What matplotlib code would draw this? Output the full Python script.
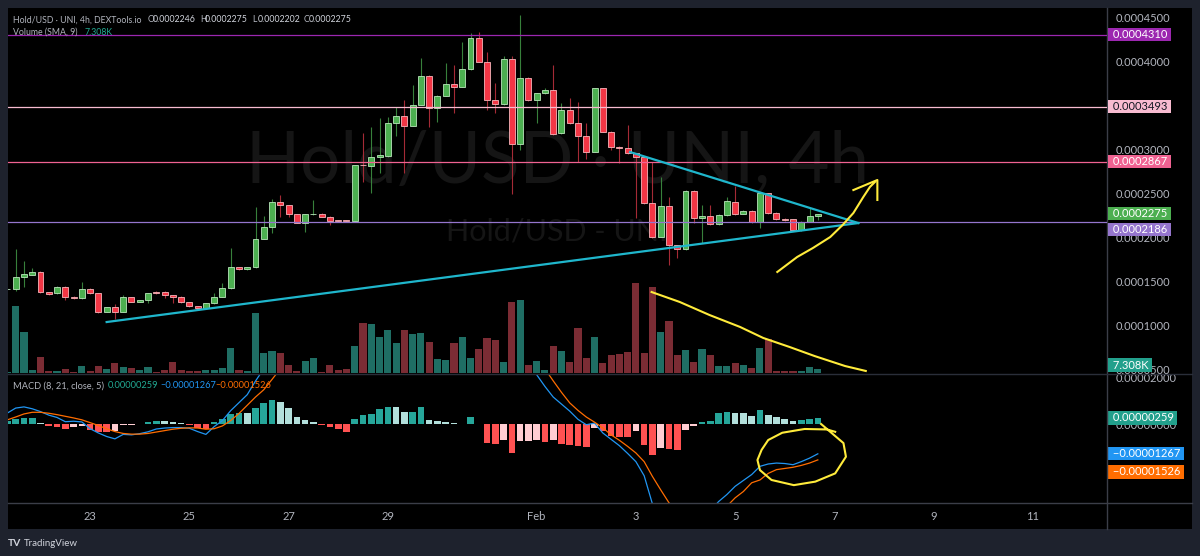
import numpy as np
import matplotlib
matplotlib.use('Agg')
import matplotlib.pyplot as plt
from matplotlib.lines import Line2D
from matplotlib.patches import Rectangle
from matplotlib.ticker import FuncFormatter
from matplotlib.transforms import blended_transform_factory

plt.rcParams['font.family'] = ['Lato', 'DejaVu Sans']

W, H = 1200, 556

# 4h candles, first one = Jan 21 08:00 (index -1), prices in units of 1e-7
opens = [1417, 1417, 1560, 1583, 1611, 1383, 1371, 1447, 1333, 1315,
         1420, 1371, 1162, 1212, 1162, 1326, 1276, 1295, 1390, 1390,
         1349, 1333, 1269, 1227, 1208, 1258, 1333, 1428, 1667, 1644,
         1667, 1992, 2122, 2412, 2375, 2269, 2174, 2270, 2273, 2242,
         2205, 2200, 2197, 2830, 2818, 2920, 2935, 3303, 3386, 3276,
         3515, 3841, 3474, 3617, 3750, 3719, 3917, 4276, 4003, 3568,
         3519, 4031, 3065, 3822, 3568, 3644, 3682, 3190, 3455, 3310,
         3159, 2981, 3701, 3208, 3037, 3019, 2962, 2917, 2394, 2015,
         2364, 1920, 1872, 2537, 2231, 2250, 2159, 2261, 2412, 2273,
         2307, 2185, 2508, 2281, 2220, 2212, 2091, 2185, 2246]
closes = [1418, 1560, 1587, 1611, 1383, 1364, 1447, 1326, 1315, 1420,
          1371, 1162, 1212, 1162, 1326, 1276, 1295, 1371, 1371, 1349,
          1333, 1269, 1227, 1208, 1258, 1333, 1428, 1667, 1644, 1667,
          1992, 2122, 2412, 2375, 2269, 2174, 2269, 2273, 2242, 2197,
          2190, 2188, 2826, 2826, 2920, 2940, 3303, 3386, 3276, 3515,
          3841, 3474, 3617, 3750, 3719, 3917, 4276, 4003, 3568, 3519,
          4031, 3065, 3822, 3568, 3644, 3682, 3182, 3455, 3310, 3159,
          2981, 3701, 3208, 3037, 3019, 2962, 2917, 2394, 2015, 2364,
          1920, 1872, 2537, 2231, 2250, 2159, 2261, 2420, 2273, 2307,
          2185, 2508, 2281, 2212, 2205, 2091, 2185, 2250, 2275]
highs = [1430, 1875, 1742, 1656, 1620, 1390, 1452, 1452, 1338, 1497,
         1428, 1375, 1218, 1250, 1352, 1332, 1300, 1378, 1395, 1400,
         1352, 1338, 1272, 1230, 1262, 1375, 1492, 1883, 1672, 1672,
         2349, 2253, 2440, 2489, 2380, 2275, 2275, 2432, 2280, 2248,
         2210, 2205, 2835, 3197, 3265, 3360, 3378, 3492, 3568, 3739,
         4042, 3848, 3625, 3992, 3966, 4231, 4326, 4344, 4117, 3758,
         4068, 4068, 4534, 3830, 3650, 3700, 3966, 3531, 3587, 3549,
         3303, 3710, 3710, 3215, 3045, 3284, 2970, 2925, 2867, 2697,
         2462, 1925, 2545, 2545, 2375, 2375, 2268, 2462, 2591, 2315,
         2315, 2515, 2515, 2290, 2225, 2218, 2192, 2337, 2275]
lows = [1410, 1398, 1447, 1580, 1378, 1355, 1366, 1295, 1310, 1310,
        1366, 1151, 1158, 1079, 1158, 1270, 1270, 1261, 1366, 1318,
        1261, 1262, 1220, 1203, 1203, 1252, 1328, 1420, 1640, 1640,
        1660, 1985, 2057, 2242, 2239, 2165, 2072, 2265, 2236, 2148,
        2185, 2180, 2190, 2640, 2508, 2742, 2925, 3159, 2742, 3270,
        3508, 3258, 3322, 3610, 3424, 3712, 3910, 3995, 3455, 3417,
        3510, 2497, 3000, 3560, 3303, 3640, 3175, 3180, 3300, 2867,
        2894, 2975, 3200, 3000, 2849, 2955, 2227, 2385, 2005, 2008,
        1693, 1769, 1865, 2167, 1940, 2150, 2150, 2255, 2265, 2268,
        2170, 2114, 2275, 2205, 2198, 2085, 2085, 2180, 2202]
# volume in thousands
volumes = [2, 122, 75, 5, 30, 3, 4, 7, 2, 13,
           3, 12, 7, 18, 11, 9, 5, 11, 2, 5,
           20, 6, 4, 4, 5, 6, 10, 45, 5, 3,
           110, 37, 40, 37, 14, 4, 22, 27, 2, 14,
           5, 7, 49, 92, 89, 66, 78, 55, 78, 71,
           73, 57, 26, 24, 55, 66, 27, 44, 64, 60,
           21, 130, 134, 14, 22, 5, 50, 40, 21, 82,
           27, 66, 18, 32, 35, 38, 165, 37, 157, 75,
           95, 32, 42, 20, 43, 32, 12, 13, 18, 14,
           9, 46, 62, 4, 4, 4, 4, 11, 7.308]
# MACD (8, 21, 5) in units of 1e-6
macd_hist = [1.4, 2.0, 2.4, 2.4, 0.3, -0.8, -1.2, -2.3, -1.4, -0.9,
             -2.6, -3.2, -3.3, -3.1, -0.4, -0.3, 0.2, 0.7, 1.3, 1.1,
             0.7, 0.3, -0.2, -1.5, -2.2, 0.9, 2.3, 4.2, 4.6, 4.5,
             6.8, 8.9, 10.2, 9.2, 6.8, 3.1, 1.7, 0.7, -0.2, -1.3,
             -2.1, -3.3, 2.1, 4.0, 4.4, 6.4, 7.2, 7.1, 5.2, 5.2,
             7.2, 1.8, 1.1, 0.7, 0.3, 0.1, 3.0, 0.1, -8.0, -8.4,
             -7.0, -12.3, -7.4, -7.2, -6.8, -7.5, -6.9, -8.4, -8.8, -9.5,
             -9.9, -1.7, -3.1, -5.2, -5.3, -5.4, -3.0, -8.8, -13.0, -10.2,
             -10.6, -10.9, -2.4, -1.0, 0.7, 1.1, 4.7, 5.0, 4.9, 4.7,
             3.5, 5.8, 4.0, 2.8, 2.1, 1.1, 1.6, 2.1, 2.59]
macd_line = [4.7, 6.8, 7.3, 6.5, 5.3, 3.8, 2.8, 1.0, 1.2, 0.9,
             -2.0, -3.8, -5.3, -6.3, -4.4, -4.6, -4.1, -3.3, -2.1, -1.7,
             -1.5, -1.5, -1.8, -3.2, -4.4, -1.1, 1.5, 5.7, 9.1, 12.5,
             18.3, 23.5, 29.2, 32.7, 33.8, 33.1, 31.7, 30.7, 29.8, 28.7,
             27.9, 26.7, 32.0, 36.0, 39.0, 43.0, 47.0, 50.0, 51.0, 53.0,
             57.0, 55.0, 55.0, 56.0, 55.0, 57.0, 60.0, 58.0, 49.0, 41.0,
             37.0, 27.0, 28.0, 24.5, 21.0, 16.0, 11.5, 8.5, 5.5, 2.0,
             -0.3, 0.4, -3.8, -6.5, -9.2, -12.5, -16.0, -22.0, -34.0, -38.0,
             -42.0, -45.0, -42.0, -40.0, -39.0, -37.0, -33.0, -30.0, -26.5, -24.0,
             -21.5, -18.0, -17.0, -16.6, -16.8, -17.3, -16.0, -14.5, -12.67]
signal_line = [1.8, 3.0, 4.3, 5.0, 5.0, 4.6, 4.0, 3.3, 2.6, 1.8,
               0.6, -0.6, -2.0, -3.2, -4.0, -4.3, -4.3, -4.0, -3.4, -2.8,
               -2.2, -1.8, -1.6, -1.7, -2.2, -2.0, -0.8, 1.5, 4.5, 8.0,
               11.5, 14.6, 19.0, 23.5, 27.0, 30.0, 30.0, 30.0, 30.0, 30.0,
               30.0, 30.0, 30.0, 32.0, 34.6, 36.6, 39.8, 42.9, 45.8, 47.8,
               49.8, 53.2, 53.9, 55.3, 55.0, 54.0, 57.0, 58.0, 57.0, 49.4,
               44.0, 39.3, 35.4, 31.7, 27.8, 23.5, 18.4, 13.5, 9.0, 5.8,
               3.0, 0.8, -1.6, -4.6, -6.9, -9.5, -12.3, -16.0, -22.3, -28.0,
               -33.5, -37.0, -39.6, -39.5, -39.7, -38.0, -37.7, -35.0, -31.4, -28.7,
               -25.0, -23.8, -21.0, -19.4, -18.9, -18.4, -17.6, -16.6, -15.26]

day_ticks = [9, 21, 33, 45, 63, 75, 87, 99, 111, 123]
day_labels = ['23', '25', '27', '29', 'Feb', '3', '5', '7', '9', '11']
# ticks that sit fully under a price label are left out
price_ticks = [0.00005, 0.0001, 0.00015, 0.0002, 0.00025, 0.0003, 0.0004, 0.00045]
macd_ticks = [0.00002, 0.0]

levels = [0.0004310, 0.0003493, 0.0002867, 0.0002186]
level_colors = ['#9c27b0', '#f8bbd0', '#f06292', '#9575cd']
level_text = ['white', '#131722', 'white', 'white']

# drawings: (candle index, price) / (candle index, macd 1e-6)
lower_trend = ([11.0, 101.9], [0.0001045, 0.0002170])
upper_trend = ([74.3, 101.9], [0.0002977, 0.0002170])
arrow_x = [92.1, 94.5, 96.4, 98.5, 100.0, 101.3, 102.5, 103.3, 103.9]
arrow_y = [1614, 1784, 1886, 2011, 2148, 2284, 2466, 2580, 2636]
head_x = [101.3, 104.2, 104.2]
head_y = [2545, 2659, 2432]
vol_trend_x = [76.9, 80.3, 83.9, 87.6, 90.4, 93.6, 96.6, 100.3, 102.8]
vol_trend_y = [1386, 1273, 1125, 989, 864, 761, 659, 545, 489]
loop_x = [97.4, 100.1, 100.4, 99.1, 96.7, 94.1, 91.4, 90.0, 89.7, 90.2, 91.0, 92.7, 95.4, 98.1, 99.1]
loop_y = [0.0, -8.1, -13.9, -21.0, -24.5, -26.0, -23.8, -19.6, -15.3, -11.0, -6.8, -3.7, -2.1, -2.3, -3.3]

o = np.array(opens) * 1e-7
c = np.array(closes) * 1e-7
h = np.array(highs) * 1e-7
l = np.array(lows) * 1e-7
x = np.arange(len(opens)) - 1
up = c >= o
hist = np.array(macd_hist) * 1e-6
prev = np.concatenate([[hist[0]], hist[:-1]])
hist_colors = np.where(hist >= 0, np.where(hist >= prev, '#26a69a', '#b2dfdb'),
                       np.where(hist < prev, '#ff5252', '#ffcdd2'))


def rect(x0, y0, x1, y1):
    return [x0 / W, 1 - y1 / H, (x1 - x0) / W, (y1 - y0) / H]


def fig_text(px, py, s, color, size=6.3, **kw):
    fig.text(px / W, 1 - py / H, s, color=color, fontsize=size, va='center', ha='left', **kw)


def minus(s):
    return s.replace('-', '\u2212')


fig = plt.figure(figsize=(W / 100, H / 100), dpi=100, facecolor='#1e222d')
fig.add_artist(Rectangle((8 / W, 1 - 529 / H), 1184 / W, 521 / H, transform=fig.transFigure,
                         facecolor='black', edgecolor='none', zorder=-10))

ax = fig.add_axes(rect(8, 8, 1107, 373))
ax_v = ax.twinx()
ax_m = fig.add_axes(rect(8, 374, 1107, 503))
ax.set_zorder(2)
ax_v.set_zorder(1)
for a in (ax, ax_v, ax_m):
    a.patch.set_visible(False)
    for s in a.spines.values():
        s.set_visible(False)

xlim = (-0.93, 131.97)
ax.set_xlim(*xlim)
ax_m.set_xlim(*xlim)
ax.set_ylim(0.00004659, 0.00046136)
ax_v.set_ylim(0, 667)
ax_m.set_ylim(-33.6e-6, 21.3e-6)

# watermark
ax_v.text(557 / W, 1 - 182 / H, 'Hold/USD · UNI, 4h', transform=fig.transFigure, ha='center',
          va='baseline', fontsize=51, color='#151515', zorder=0)
ax_v.text(557 / W, 1 - 231 / H, 'Hold/USD - UNI', transform=fig.transFigure, ha='center',
          va='center', fontsize=22, color='#151515', zorder=0)

# volume
ax_v.bar(x, volumes, width=0.86, color=np.where(up, '#1f6e64', '#7b2c34'), zorder=1)
ax_v.set_yticks([])
ax_v.tick_params(right=False, labelright=False)

# candles
ax.vlines(x, l, h, colors=np.where(up, '#37803b', '#a52a36'), lw=0.8, zorder=2)
ax.bar(x, c - o, bottom=o, width=0.72, color=np.where(up, '#4caf50', '#f23645'),
       edgecolor=np.where(up, '#b9e6bb', '#f8b5bb'), linewidth=0.6, zorder=3)

for lvl, col in zip(levels, level_colors):
    ax.axhline(lvl, color=col, lw=0.9, zorder=4)

ax.plot(*lower_trend, color='#1fb6cc', lw=1.6, zorder=5)
ax.plot(*upper_trend, color='#1fb6cc', lw=1.6, zorder=5)
ax.plot(arrow_x, np.array(arrow_y) * 1e-7, color='#ffeb3b', lw=1.5, zorder=6)
ax.plot(head_x, np.array(head_y) * 1e-7, color='#ffeb3b', lw=1.5, zorder=6)
ax.plot(vol_trend_x, np.array(vol_trend_y) * 1e-7, color='#ffeb3b', lw=1.5, zorder=6)

ax.set_xticks([])
ax.yaxis.tick_right()
ax.set_yticks(price_ticks)
ax.yaxis.set_major_formatter(FuncFormatter(lambda v, p: f'{v:.7f}'))
ax.tick_params(axis='y', length=0, pad=6.5, labelsize=8, labelcolor='#b2b5be')

# MACD pane
ax_m.bar(x, hist, width=0.8, color=hist_colors, zorder=2)
ax_m.plot(x, np.array(macd_line) * 1e-6, color='#2196f3', lw=0.9, zorder=3)
ax_m.plot(x, np.array(signal_line) * 1e-6, color='#ff6d00', lw=0.9, zorder=3)
ax_m.plot(loop_x, np.array(loop_y) * 1e-6, color='#ffeb3b', lw=1.5, zorder=4)
ax_m.yaxis.tick_right()
ax_m.set_yticks(macd_ticks)
ax_m.yaxis.set_major_formatter(FuncFormatter(lambda v, p: minus(f'{v:.8f}')))
ax_m.tick_params(axis='y', length=0, pad=6.5, labelsize=8, labelcolor='#b2b5be')
ax_m.set_xticks(day_ticks)
ax_m.set_xticklabels(day_labels)
ax_m.tick_params(axis='x', length=0, pad=6, labelsize=8, labelcolor='#b2b5be')


def box(axis, y, text, fc, tc='white', dy=0, coords=('axes fraction', 'data')):
    axis.annotate(' ' + text + ' ', xy=(1, y), xycoords=coords, xytext=(2.5, dy),
                  textcoords='offset pixels', ha='left', va='center', fontsize=8, color=tc,
                  bbox=dict(boxstyle='square,pad=0.1', fc=fc, ec='none'),
                  annotation_clip=False, zorder=10)


for lvl, col, tc in zip(levels, level_colors, level_text):
    box(ax, lvl, f'{lvl:.7f}', col, tc, dy=-8 if lvl == levels[-1] else 0)
box(ax, c[-1], f'{c[-1]:.7f}', '#4caf50')
box(ax, volumes[-1], f'{volumes[-1]:.3f}K', '#22a08c', dy=4,
    coords=blended_transform_factory(ax.transAxes, ax_v.transData))
box(ax_m, hist[-1], f'{hist[-1]:.8f}', '#22a08c')
box(ax_m, macd_line[-1] * 1e-6, minus(f'{macd_line[-1] * 1e-6:.8f}'), '#2196f3')
box(ax_m, signal_line[-1] * 1e-6, minus(f'{signal_line[-1] * 1e-6:.8f}'), '#ff6d00', dy=-12)

# separators
for xs, ys, col in [((1107, 1107), (8, 529), '#3b3e48'), ((8, 1192), (373.5, 373.5), '#2a2e39'),
                    ((8, 1192), (503, 503), '#3b3e48')]:
    fig.add_artist(Line2D([xs[0] / W, xs[1] / W], [1 - ys[0] / H, 1 - ys[1] / H],
                          transform=fig.transFigure, color=col, lw=1, zorder=1.5))

# legends
grey, white = '#b2b5be', '#d1d4dc'
fig_text(13.3, 20, 'Hold/USD · UNI, 4h, DEXTools.io', grey)
for lab, px, val in [('O', 147.7, o[-1]), ('H', 200, h[-1]), ('L', 252.3, l[-1]), ('C', 303.3, c[-1])]:
    fig_text(px, 20, lab, grey)
    fig_text(px + 5, 20, f'{val:.7f}', white)
fig_text(13.3, 32.3, 'Volume (SMA, 9)', grey)
fig_text(85, 32.3, f'{volumes[-1]:.3f}K', '#22ab94')
fig_text(13.3, 385.7, 'MACD (8, 21, close, 5)', grey, size=6.7)
fig_text(107.3, 385.7, f'{hist[-1]:.8f}', '#22ab94', size=6.7)
fig_text(160, 385.7, minus(f'{macd_line[-1] * 1e-6:.8f}'), '#2196f3', size=6.7)
fig_text(215, 385.7, minus(f'{signal_line[-1] * 1e-6:.8f}'), '#ff6d00', size=6.7)

fig_text(8, 543, 'TV', white, size=7.5, fontweight='bold')
fig_text(24, 543, 'TradingView', white, size=7)

fig.savefig('out.png', dpi=100, facecolor=fig.get_facecolor())
